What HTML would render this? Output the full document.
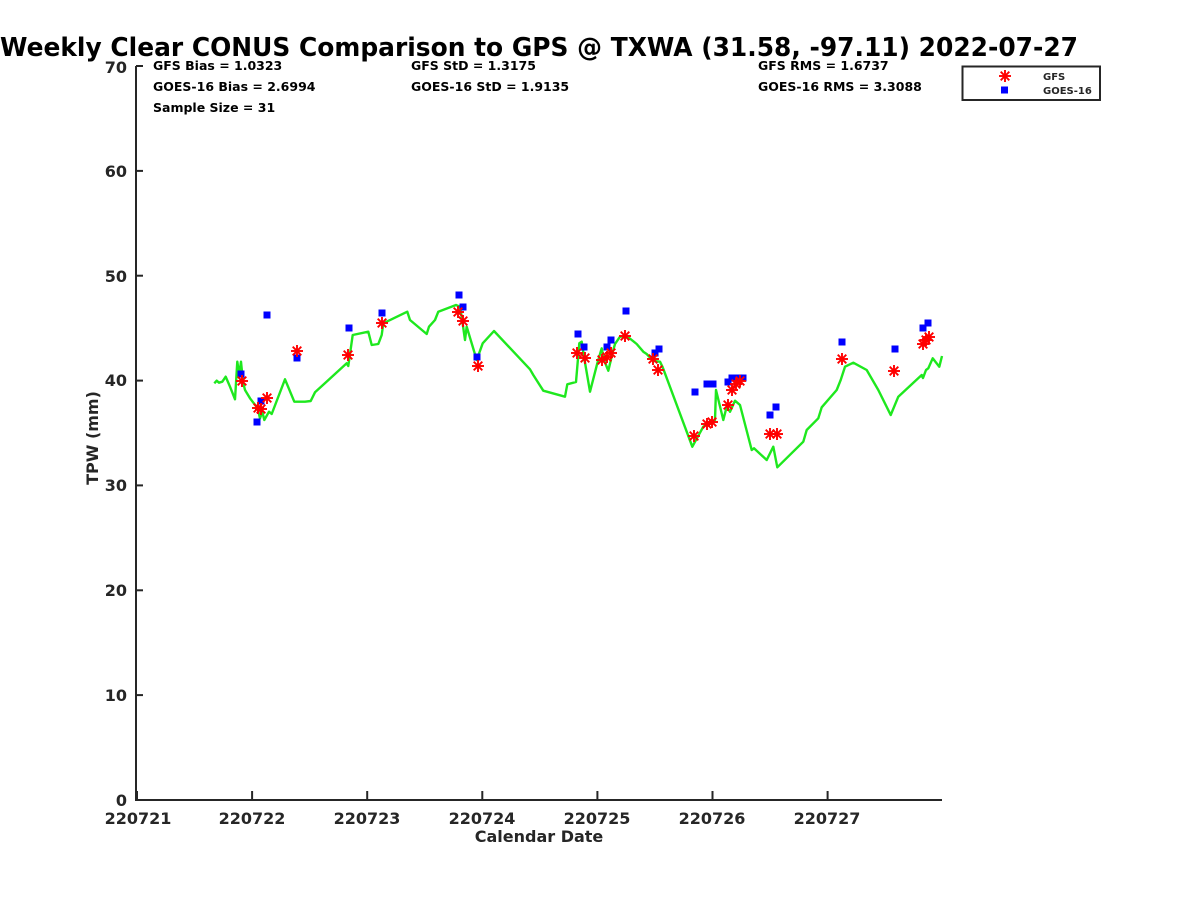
<!DOCTYPE html>
<html><head><meta charset="utf-8"><style>
html,body{margin:0;padding:0;background:#fff;}
svg{display:block;}
text{font-family:"DejaVu Sans","Liberation Sans",sans-serif;font-weight:bold;}
</style></head><body>
<svg width="1200" height="900" viewBox="0 0 1200 900" xmlns="http://www.w3.org/2000/svg">
<defs>
<g id="a" stroke="#ff0000" stroke-width="1.9" fill="none">
<line x1="-6" y1="0" x2="6" y2="0"/><line x1="0" y1="-6" x2="0" y2="6"/>
<line x1="-4.3" y1="-4.3" x2="4.3" y2="4.3"/><line x1="-4.3" y1="4.3" x2="4.3" y2="-4.3"/>
</g>
<rect id="b" x="-3.5" y="-3.5" width="7" height="7" fill="#0000ff"/>
</defs>
<rect width="1200" height="900" fill="#fff"/>
<text x="0" y="56" font-size="25.5" fill="#000" textLength="1078" lengthAdjust="spacingAndGlyphs">Weekly Clear CONUS Comparison to GPS @ TXWA (31.58, -97.11) 2022-07-27</text>

<!-- axes -->
<g stroke="#262626" stroke-width="2" fill="none">
<line x1="136" y1="66" x2="136" y2="801"/>
<line x1="135" y1="800" x2="942" y2="800"/>
<line x1="136" y1="66" x2="143" y2="66"/>
<line x1="136" y1="170.9" x2="143" y2="170.9"/>
<line x1="136" y1="275.7" x2="143" y2="275.7"/>
<line x1="136" y1="380.6" x2="143" y2="380.6"/>
<line x1="136" y1="485.4" x2="143" y2="485.4"/>
<line x1="136" y1="590.3" x2="143" y2="590.3"/>
<line x1="136" y1="695.1" x2="143" y2="695.1"/>
<line x1="137" y1="800" x2="137" y2="791"/>
<line x1="252.1" y1="800" x2="252.1" y2="791"/>
<line x1="367.2" y1="800" x2="367.2" y2="791"/>
<line x1="482.3" y1="800" x2="482.3" y2="791"/>
<line x1="597.4" y1="800" x2="597.4" y2="791"/>
<line x1="712.5" y1="800" x2="712.5" y2="791"/>
<line x1="827.6" y1="800" x2="827.6" y2="791"/>
</g>
<g font-size="16" fill="#262626" text-anchor="end">
<text x="127" y="73">70</text>
<text x="127" y="177">60</text>
<text x="127" y="282">50</text>
<text x="127" y="386">40</text>
<text x="127" y="491">30</text>
<text x="127" y="596">20</text>
<text x="127" y="701">10</text>
<text x="127" y="806">0</text>
</g>
<g font-size="16" fill="#262626" text-anchor="middle">
<text x="138" y="824">220721</text>
<text x="252" y="824">220722</text>
<text x="367" y="824">220723</text>
<text x="482" y="824">220724</text>
<text x="597" y="824">220725</text>
<text x="712" y="824">220726</text>
<text x="827" y="824">220727</text>
<text x="539" y="842">Calendar Date</text>
<text transform="translate(98,438) rotate(-90)">TPW (mm)</text>
</g>

<!-- stats -->
<g font-size="12.5" fill="#000">
<text x="153" y="70">GFS Bias = 1.0323</text>
<text x="153" y="91">GOES-16 Bias = 2.6994</text>
<text x="153" y="112">Sample Size = 31</text>
<text x="411" y="70">GFS StD = 1.3175</text>
<text x="411" y="91">GOES-16 StD = 1.9135</text>
<text x="758" y="70">GFS RMS = 1.6737</text>
<text x="758" y="91">GOES-16 RMS = 3.3088</text>
</g>

<!-- legend -->
<rect x="962.5" y="66.5" width="137.5" height="33.5" fill="#fff" stroke="#262626" stroke-width="2"/>
<use href="#a" x="1005" y="76"/>
<use href="#b" x="1004.5" y="90"/>
<g font-size="10" fill="#262626">
<text x="1043" y="80">GFS</text>
<text x="1043" y="94">GOES-16</text>
</g>

<!-- GPS line -->
<polyline fill="none" stroke="#1ee81e" stroke-width="2.4" stroke-linejoin="round" points="214.3,383.3 216.7,380.7 219,382.7 222.3,381.7 225.7,376.7 230,386.7 235,399.3 237.3,361.7 239.3,375 241,361.7 243,382 245,390 250,398.3 257.7,408.3 260,418.3 262.3,411.7 264.3,420 269,411.7 271.7,414 285,379.3 294.3,401.7 305,401.7 310.7,401 315,392.3 346.7,363.3 348.3,366 352.7,335 368.3,331.7 371.7,345 378.3,344 381.7,335 383.3,323.3 407.3,311.7 410,320 426.7,334 429,326.7 435,320 438.3,311.7 456,305 460,306.7 461.7,316.7 465,340 466.7,326.7 476.7,360 482.7,343.3 494,331 530,369.3 533.3,375 543.3,390.7 565,396.7 567.3,384.3 576,382 579.3,343.3 581.7,341.7 584,356.7 590,391.7 597.3,363.3 601.7,348.3 604,360 608.3,370.7 613.3,350 615,344 620,336.7 626.7,336 636.7,344 643.3,351.7 646.7,354 653.3,361 660,361.7 662.7,367.3 692.3,446.7 703.3,426.7 708,424 715,420 716,390 723.3,420 726.7,406.7 730,411.7 735,400.7 740,405 751.7,450 754,448.3 766.7,460 773.3,446.7 777.3,467.3 803.3,441.7 806.7,430 818.3,418.3 821.7,407.3 836.7,390 840.7,380 845,366.7 853.3,362.7 866.7,370 878.3,390 890.7,415 898.3,396.7 921.7,375 923,378 926,370 928.3,368.3 932.7,358.3 939.3,366.7 942,356"/>

<!-- GOES-16 squares -->
<g>
<use href="#b" x="241" y="374"/><use href="#b" x="257" y="422"/><use href="#b" x="261" y="401"/>
<use href="#b" x="267" y="315"/><use href="#b" x="297" y="358"/><use href="#b" x="349" y="328"/>
<use href="#b" x="382" y="313"/><use href="#b" x="459" y="295"/><use href="#b" x="463" y="307"/>
<use href="#b" x="477" y="357"/><use href="#b" x="578" y="334"/><use href="#b" x="584" y="347"/>
<use href="#b" x="607" y="347"/><use href="#b" x="611" y="340"/><use href="#b" x="626" y="311"/>
<use href="#b" x="655" y="353"/><use href="#b" x="659" y="349"/><use href="#b" x="695" y="392"/>
<use href="#b" x="707" y="384"/><use href="#b" x="713" y="384"/><use href="#b" x="728" y="382"/>
<use href="#b" x="732" y="378"/><use href="#b" x="737" y="378"/><use href="#b" x="743" y="378"/>
<use href="#b" x="770" y="415"/><use href="#b" x="776" y="407"/><use href="#b" x="842" y="342"/>
<use href="#b" x="895" y="349"/><use href="#b" x="923" y="328"/><use href="#b" x="928" y="323"/>
</g>

<!-- GFS asterisks -->
<g>
<use href="#a" x="242" y="381"/><use href="#a" x="258" y="408"/><use href="#a" x="261" y="409"/>
<use href="#a" x="267" y="398"/><use href="#a" x="297" y="351"/><use href="#a" x="348" y="355"/>
<use href="#a" x="382" y="323"/><use href="#a" x="458" y="312"/><use href="#a" x="463" y="321"/>
<use href="#a" x="478" y="366"/><use href="#a" x="577" y="353"/><use href="#a" x="585" y="358"/>
<use href="#a" x="602" y="360"/><use href="#a" x="607" y="357"/><use href="#a" x="611" y="353"/>
<use href="#a" x="625" y="336"/><use href="#a" x="653" y="359"/><use href="#a" x="658" y="370"/>
<use href="#a" x="694" y="436"/><use href="#a" x="707" y="424"/><use href="#a" x="712" y="422"/>
<use href="#a" x="728" y="405"/><use href="#a" x="732" y="390"/><use href="#a" x="736" y="384"/>
<use href="#a" x="740" y="381"/><use href="#a" x="770" y="434"/><use href="#a" x="777" y="434"/>
<use href="#a" x="842" y="359"/><use href="#a" x="894" y="371"/><use href="#a" x="923" y="344"/>
<use href="#a" x="926" y="340"/><use href="#a" x="929" y="337"/>
</g>
</svg>
</body></html>
